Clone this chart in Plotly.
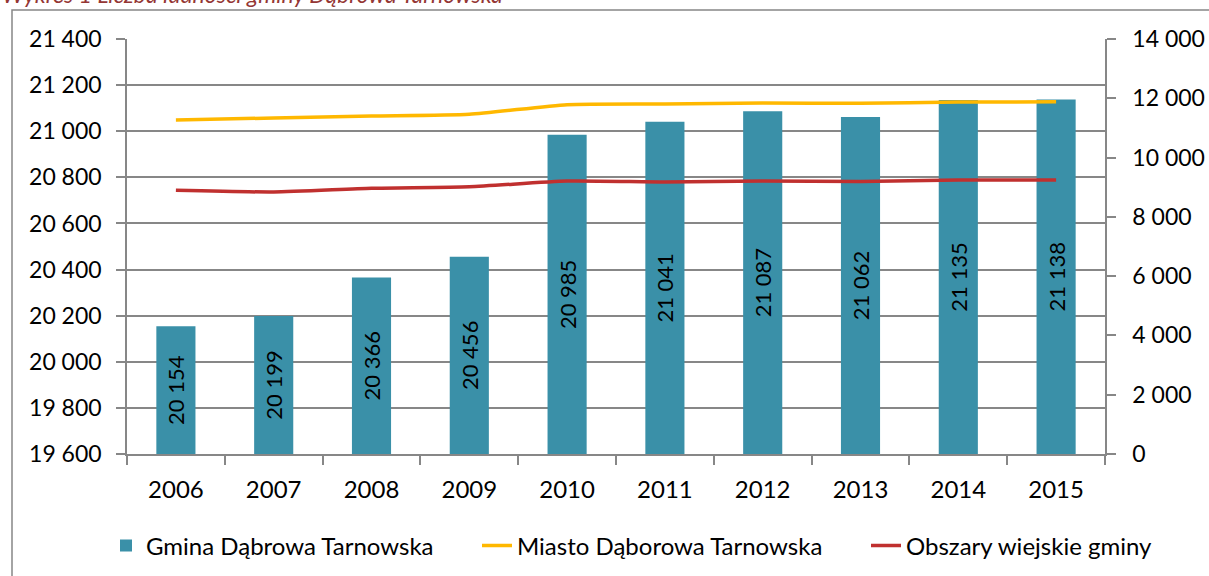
import plotly.graph_objects as go

years = ["2006", "2007", "2008", "2009", "2010", "2011", "2012", "2013", "2014", "2015"]
gmina = [20154, 20199, 20366, 20456, 20985, 21041, 21087, 21062, 21135, 21138]
miasto = [11270, 11335, 11400, 11460, 11785, 11810, 11840, 11830, 11875, 11880]
obszary = [8895, 8840, 8965, 9015, 9210, 9180, 9210, 9190, 9240, 9245]

left_ticks = [19600, 19800, 20000, 20200, 20400, 20600, 20800, 21000, 21200, 21400]
right_ticks = [0, 2000, 4000, 6000, 8000, 10000, 12000, 14000]

BASE = 19600
FONT = "Lato"
GRAY = "#878787"

def fmt(v):
    return f"{v:,}".replace(",", " ")

W, H = 1209, 576
L, R, T, B = 127, 1105, 39, 454

def px(x):
    return (x - L) / (R - L)

def py(y):
    return (B - y) / (B - T)

fig = go.Figure()
fig.add_trace(go.Bar(
    x=years, y=[v - BASE for v in gmina], base=BASE,
    name="Gmina Dąbrowa Tarnowska",
    marker=dict(color="#3A90A8", line=dict(width=0)),
    text=[fmt(v) for v in gmina], textposition="inside",
    insidetextanchor="middle", textangle=-90, constraintext="none",
    textfont=dict(family=FONT, size=22, color="black"),
    legend="legend",
))
fig.add_trace(go.Scatter(
    x=years, y=miasto, yaxis="y2", mode="lines", name="Miasto Dąborowa Tarnowska",
    line=dict(color="#FFB800", width=3.5, shape="spline", smoothing=0.6),
    legend="legend2",
))
fig.add_trace(go.Scatter(
    x=years, y=obszary, yaxis="y2", mode="lines", name="Obszary wiejskie gminy",
    line=dict(color="#C0302F", width=3.5, shape="spline", smoothing=0.6),
    legend="legend3",
))

yfont = dict(family=FONT, size=23, color="black")
xfont = dict(family=FONT, size=24, color="black")
legfont = dict(family=FONT, size=24, color="black")

fig.update_layout(
    width=W, height=H,
    margin=dict(l=L, r=W - R, t=T, b=H - B, pad=0, autoexpand=False),
    paper_bgcolor="white", plot_bgcolor="white",
    bargap=0.6,
    xaxis=dict(type="category", categoryorder="array", categoryarray=years,
               showline=True, linecolor=GRAY, linewidth=1.5,
               ticks="outside", tickson="boundaries", ticklen=9, tickcolor=GRAY, tickwidth=1.5,
               tickfont=xfont, showgrid=False, ticklabelstandoff=13),
    yaxis=dict(range=[19600, 21400], tickvals=left_ticks, ticktext=[fmt(v) for v in left_ticks],
               showline=True, linecolor=GRAY, linewidth=1.5,
               ticks="outside", ticklen=9, tickcolor=GRAY, tickwidth=1.5,
               showgrid=True, gridcolor=GRAY, gridwidth=1.5, zeroline=False,
               tickfont=yfont, ticklabelstandoff=10),
    yaxis2=dict(range=[0, 14000], tickvals=right_ticks, ticktext=[fmt(v) for v in right_ticks],
                overlaying="y", side="right",
                showline=True, linecolor=GRAY, linewidth=1.5,
                ticks="outside", ticklen=9, tickcolor=GRAY, tickwidth=1.5,
                showgrid=False, zeroline=False, tickfont=yfont, ticklabelstandoff=12),
    legend=dict(x=px(106), y=py(546), xanchor="left", yanchor="middle", font=legfont,
                bgcolor="rgba(0,0,0,0)"),
    legend2=dict(x=px(477), y=py(546), xanchor="left", yanchor="middle", font=legfont,
                 bgcolor="rgba(0,0,0,0)"),
    legend3=dict(x=px(866), y=py(546), xanchor="left", yanchor="middle", font=legfont,
                 bgcolor="rgba(0,0,0,0)"),
    showlegend=True,
    shapes=[dict(type="rect", xref="paper", yref="paper",
                 x0=px(12), x1=px(1230), y0=py(600), y1=py(10),
                 line=dict(color=GRAY, width=1.5), fillcolor="rgba(0,0,0,0)", layer="below")],
    annotations=[dict(text="<i>Wykres 1 Liczba ludności gminy Dąbrowa Tarnowska</i>",
                      xref="paper", yref="paper", x=px(0), y=py(10),
                      xanchor="left", yanchor="bottom", showarrow=False,
                      font=dict(family=FONT, size=23, color="#943634"))],
)

fig.write_html("out.html", config={"displayModeBar": False},
               post_script="document.body.style.margin='0px';")
